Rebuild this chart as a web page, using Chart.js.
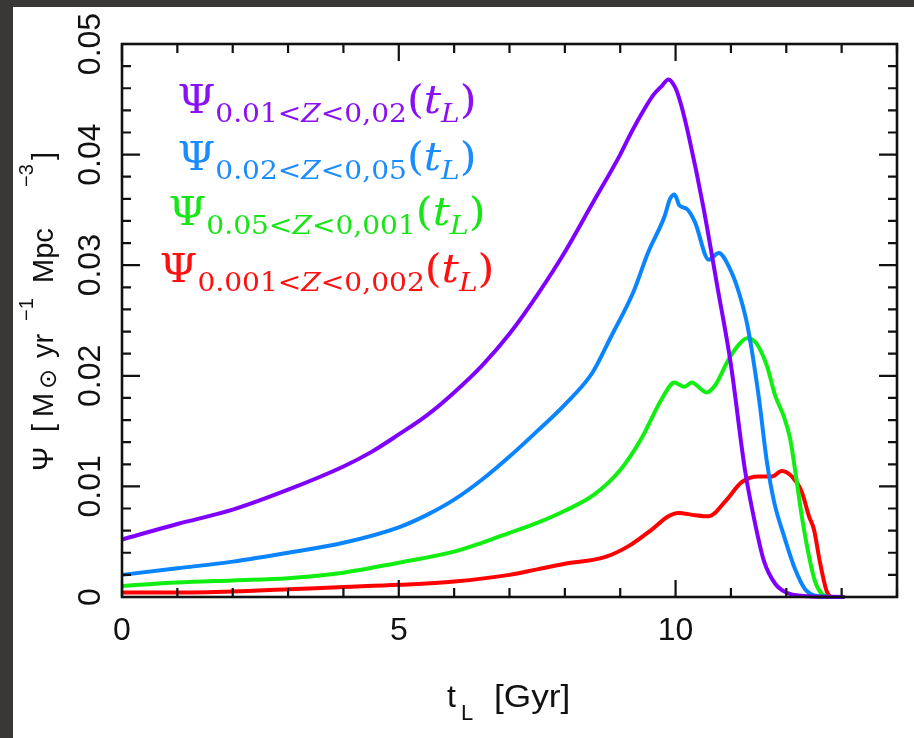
<!DOCTYPE html>
<html>
<head>
<meta charset="utf-8">
<script src="https://cdn.jsdelivr.net/npm/chart.js@4.4.0/dist/chart.umd.min.js"></script>
<style>
  html, body { margin: 0; padding: 0; background: #fff; }
  canvas { display: block; }
</style>
</head>
<body>
<canvas id="sfr" width="914" height="738"></canvas>
<script>
// lookback time [Gyr] and SFR density per metallicity bin
const tPurple = [0, 1, 2, 3, 4, 4.5, 5, 5.5, 6, 6.5, 7, 7.5, 8, 8.5, 9, 9.2, 9.4, 9.6, 9.75, 9.87, 10.0, 10.1, 10.25, 10.5, 10.75, 11.0, 11.25, 11.43, 11.6, 11.8, 12.0, 12.3, 13.05];
const psiPurple = [0.0052, 0.0066, 0.0079, 0.0097, 0.0118, 0.0131, 0.0147, 0.0164, 0.0185, 0.0209, 0.0238, 0.0273, 0.0312, 0.0356, 0.0400, 0.0420, 0.0438, 0.0454, 0.0462, 0.0468, 0.0460, 0.0445, 0.0414, 0.0353, 0.0282, 0.0210, 0.0116, 0.0068, 0.0032, 0.0012, 0.0004, 0.0001, 0.0000];

const tBlue = [0, 1, 2, 3, 4, 5, 5.5, 6, 6.5, 7, 7.5, 8, 8.5, 8.84, 9.24, 9.5, 9.8, 9.9, 9.98, 10.07, 10.2, 10.35, 10.6, 10.78, 10.98, 11.14, 11.3, 11.5, 11.65, 11.78, 11.96, 12.16, 12.34, 12.55, 13.05];
const psiBlue = [0.0020, 0.0026, 0.0032, 0.0040, 0.0049, 0.0063, 0.0074, 0.0088, 0.0106, 0.0127, 0.0150, 0.0174, 0.0203, 0.0236, 0.0276, 0.0311, 0.0344, 0.0360, 0.0364, 0.0354, 0.0351, 0.0339, 0.0305, 0.0311, 0.0297, 0.0276, 0.0245, 0.0182, 0.0122, 0.0086, 0.0055, 0.0025, 0.0007, 0.0001, 0.0000];

const tGreen = [0, 1, 2, 3, 4, 5, 6, 6.5, 7, 7.5, 8, 8.54, 9.02, 9.38, 9.75, 9.98, 10.16, 10.29, 10.56, 10.71, 10.96, 11.14, 11.29, 11.45, 11.65, 11.8, 11.95, 12.07, 12.19, 12.28, 12.41, 12.52, 12.64, 12.8, 13.05];
const psiGreen = [0.0010, 0.0013, 0.0015, 0.0017, 0.0022, 0.0031, 0.0041, 0.0049, 0.0058, 0.0067, 0.0078, 0.0093, 0.0116, 0.0143, 0.0179, 0.0194, 0.0190, 0.0194, 0.0185, 0.0191, 0.0215, 0.0228, 0.0234, 0.0230, 0.0209, 0.0182, 0.0164, 0.0143, 0.0104, 0.0073, 0.0037, 0.0014, 0.0003, 0.0000, 0.0000];

const tRed = [0, 1, 2, 3, 4, 5, 6, 7, 7.5, 8, 8.72, 9.15, 9.57, 9.87, 10.05, 10.35, 10.6, 10.89, 11.2, 11.5, 11.74, 11.92, 12.1, 12.28, 12.41, 12.5, 12.61, 12.74, 12.85, 13.05];
const psiRed = [0.0004, 0.0004, 0.0005, 0.0007, 0.0009, 0.0011, 0.0014, 0.0020, 0.0025, 0.0030, 0.0036, 0.0046, 0.0061, 0.0073, 0.0076, 0.0074, 0.0073, 0.0086, 0.0104, 0.0109, 0.0109, 0.0114, 0.0109, 0.0095, 0.0073, 0.0061, 0.0031, 0.0004, 0.0000, 0.0000];

// legend subscripts (Z ranges), same order as datasets
const zRanges = [["0.01<", "Z", "<0,02"], ["0.02<", "Z", "<0,05"], ["0.05<", "Z", "<0,001"], ["0.001<", "Z", "<0,002"]];

const xTicks = [0, 5, 10];
const xTickLabels = ["0", "5", "10"];
const yTicks = [0, 0.01, 0.02, 0.03, 0.04, 0.05];
const yTickLabels = ["0", "0.01", "0.02", "0.03", "0.04", "0.05"];

const lineColors = ["#8000ff", "#0a84ff", "#11ee11", "#ff0000"];
const textColors = ["#8a10f5", "#1a8cff", "#16e616", "#ff1010"];

const SANS = '"Liberation Sans", Arial, sans-serif';
const SERIF = '"DejaVu Serif", serif';

function pts(ts, vs) {
  return ts.map((t, i) => ({ x: t, y: vs[i] }));
}

function drawRotated(ctx, x, y, text, font, align) {
  ctx.save();
  ctx.translate(x, y);
  ctx.rotate(-Math.PI / 2);
  ctx.font = font;
  ctx.textAlign = align;
  ctx.textBaseline = "alphabetic";
  ctx.fillText(text, 0, 0);
  ctx.restore();
}

const framePlugin = {
  id: "frame",
  beforeDraw(chart) {
    const ctx = chart.ctx;
    ctx.save();
    ctx.fillStyle = "#3a3836";
    ctx.fillRect(0, 0, chart.width, 7);
    ctx.fillRect(0, 0, 13, chart.height);
    ctx.restore();
  },
  afterDraw(chart) {
    const ctx = chart.ctx;
    const { left, right, top, bottom } = chart.chartArea;
    const xs = chart.scales.x, ys = chart.scales.y;
    ctx.save();
    ctx.strokeStyle = "#111";
    ctx.fillStyle = "#111";

    // inward ticks on all four sides
    ctx.lineWidth = 2.2;
    ctx.beginPath();
    for (let t = 0; t <= 14; t++) {
      const px = xs.getPixelForValue(t);
      const len = t % 5 === 0 ? 17 : 9;
      ctx.moveTo(px, bottom); ctx.lineTo(px, bottom - len);
      ctx.moveTo(px, top); ctx.lineTo(px, top + len);
    }
    for (let k = 0; k <= 25; k++) {
      const py = ys.getPixelForValue(k * 0.002);
      const len = k % 5 === 0 ? 18 : 9;
      ctx.moveTo(left, py); ctx.lineTo(left + len, py);
      ctx.moveTo(right, py); ctx.lineTo(right - len, py);
    }
    ctx.stroke();

    ctx.lineWidth = 2.6;
    ctx.strokeRect(left, top, right - left, bottom - top);

    // tick labels
    ctx.font = "32px " + SANS;
    ctx.textAlign = "center";
    ctx.textBaseline = "alphabetic";
    xTicks.forEach((v, i) => ctx.fillText(xTickLabels[i], xs.getPixelForValue(v), 640));
    yTicks.forEach((v, i) => drawRotated(ctx, 100, ys.getPixelForValue(v), yTickLabels[i], "32px " + SANS, "center"));

    // x title: t_L [Gyr]
    ctx.textAlign = "left";
    ctx.font = "32px " + SANS;
    ctx.fillText("t", 447, 707);
    ctx.font = "22px " + SANS;
    ctx.fillText("L", 461, 720);
    ctx.save();
    ctx.translate(494, 707);
    ctx.scale(1.1, 1);
    ctx.font = "32px " + SANS;
    ctx.fillText("[Gyr]", 0, 0);
    ctx.restore();

    // y title: Psi [M_sun yr^-1 Mpc^-3]
    ctx.save();
    ctx.translate(53, 473);
    ctx.rotate(-Math.PI / 2);
    ctx.textAlign = "left";
    const big = "29px " + SANS, small = "20px " + SANS;
    const segs = [
      ["\u03A8", big, 2, 0],
      ["[", big, 41, 0],
      ["M", big, 56, 0],
      ["\u2299", '24px "DejaVu Sans", sans-serif', 84, 3],
      ["yr", big, 115, 0],
      ["\u22121", small, 152, -20],
      ["Mpc", big, 190, 0],
      ["\u22123", small, 286, -20],
      ["]", big, 313, 0]
    ];
    segs.forEach(s => { ctx.font = s[1]; ctx.fillText(s[0], s[2], s[3]); });
    ctx.restore();

    // legend inside the plot
    const baselines = [113, 170, 225, 282];
    const cx = 327, sx = 1.08;
    const main = "40px " + SERIF, mainIt = "italic 40px " + SERIF;
    const sub = "26px " + SERIF, subIt = "italic 26px " + SERIF;
    zRanges.forEach((z, i) => {
      const parts = [
        ["\u03A8", main, 0],
        [z[0], sub, 9],
        [z[1], subIt, 9],
        [z[2], sub, 9],
        ["(", main, 0],
        ["t", mainIt, 0],
        ["L", subIt, 9],
        [")", main, 0]
      ];
      let w = 0;
      parts.forEach(p => { ctx.font = p[1]; w += ctx.measureText(p[0]).width; });
      ctx.save();
      ctx.translate(cx - w * sx / 2, 0);
      ctx.scale(sx, 1);
      ctx.fillStyle = textColors[i];
      ctx.textAlign = "left";
      let x = 0;
      parts.forEach(p => {
        ctx.font = p[1];
        ctx.fillText(p[0], x, baselines[i] + p[2]);
        x += ctx.measureText(p[0]).width;
      });
      ctx.restore();
    });
    ctx.restore();
  }
};

const series = [
  [tPurple, psiPurple],
  [tBlue, psiBlue],
  [tGreen, psiGreen],
  [tRed, psiRed]
];

new Chart(document.getElementById("sfr"), {
  type: "line",
  data: {
    datasets: series.map((s, i) => ({
      data: pts(s[0], s[1]),
      borderColor: lineColors[i],
      borderWidth: 4,
      pointRadius: 0,
      fill: false,
      cubicInterpolationMode: "monotone",
      clip: 4
    }))
  },
  options: {
    responsive: false,
    animation: false,
    devicePixelRatio: 1,
    layout: { padding: { left: 122, right: 17, top: 44, bottom: 141 } },
    plugins: { legend: { display: false }, tooltip: { enabled: false } },
    scales: {
      x: { type: "linear", min: 0, max: 14, display: false },
      y: { type: "linear", min: 0, max: 0.05, display: false }
    }
  },
  plugins: [framePlugin]
});
</script>
</body>
</html>
